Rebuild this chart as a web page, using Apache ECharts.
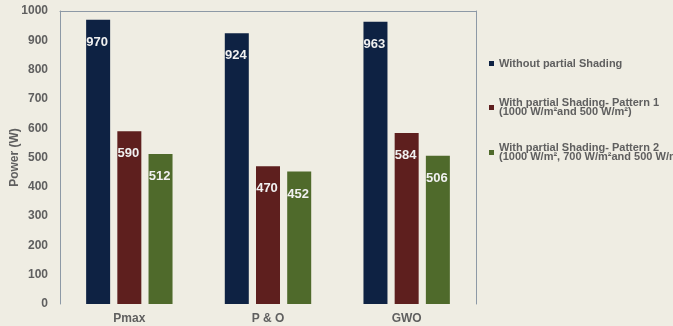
<!DOCTYPE html>
<html>
<head>
<meta charset="utf-8">
<script src="https://cdn.jsdelivr.net/npm/echarts@6/dist/echarts.min.js"></script>
<style>
  html, body { margin: 0; padding: 0; background: #efede3; }
  #chart { width: 673px; height: 326px; }
</style>
</head>
<body>
<div id="chart"></div>
<script>
const categories = ['Pmax', 'P & O', 'GWO'];
const seriesNames = [
  'Without partial Shading',
  'With partial Shading- Pattern 1\n(1000 W/m²and 500 W/m²)',
  'With partial Shading- Pattern 2\n(1000 W/m², 700 W/m²and 500 W/m²)'
];
const withoutShading = [970, 924, 963];
const pattern1 = [590, 470, 584];
const pattern2 = [512, 452, 506];
const yTicks = [0, 100, 200, 300, 400, 500, 600, 700, 800, 900, 1000];

const barColors = ['#0e2243', '#5e1f1e', '#4f6a2b'];
const frameColor = '#8d99a6';
const textGray = '#5f5f5f';
const fontFam = '"Liberation Sans", Arial, sans-serif';

const chart = echarts.init(document.getElementById('chart'));

// 柱上数值
const barLabel = {
  show: true,
  position: 'insideTop',
  distance: 16,
  offset: [-1, 0],
  color: '#f0f0f0',
  fontSize: 13,
  fontWeight: 'bold',
  fontFamily: fontFam
};

const makeLegend = (name, top) => ({
  data: [name],
  orient: 'vertical',
  left: 489,
  top: top,
  padding: 0,
  itemWidth: 5,
  itemHeight: 5,
  itemGap: 0,
  icon: 'rect',
  selectedMode: false,
  textStyle: {
    color: textGray,
    fontSize: 11,
    fontWeight: 'bold',
    fontFamily: fontFam,
    lineHeight: 9,
    padding: name.indexOf('\n') >= 0 ? [9, 0, 0, 0] : 0
  }
});

const option = {
  backgroundColor: '#efede3',
  animation: false,
  color: barColors,
  grid: { left: 60, right: 197, top: 11, bottom: 22, outerBoundsMode: 'none' },
  legend: [
    makeLegend(seriesNames[0], 58),
    makeLegend(seriesNames[1], 94),
    makeLegend(seriesNames[2], 139)
  ],
  xAxis: [
    {
      type: 'category',
      data: categories,
      axisLine: { show: false },
      axisTick: { show: false },
      axisLabel: {
        color: textGray, fontSize: 12, fontWeight: 'bold',
        fontFamily: fontFam, margin: 9
      }
    },
    {
      type: 'category',
      position: 'top',
      data: categories,
      axisLine: { show: true, onZero: false, lineStyle: { color: frameColor, width: 1 } },
      axisTick: { show: false },
      axisLabel: { show: false }
    }
  ],
  yAxis: [
    {
      type: 'value',
      min: yTicks[0],
      max: yTicks[yTicks.length - 1],
      interval: 100,
      name: 'Power (W)',
      nameLocation: 'middle',
      nameGap: 39,
      nameMoveOverlap: false,
      nameTextStyle: {
        color: textGray, fontSize: 12, fontWeight: 'bold', fontFamily: fontFam
      },
      splitLine: { show: false },
      axisLine: { show: true, onZero: false, lineStyle: { color: frameColor, width: 1 } },
      axisTick: { show: false },
      axisLabel: {
        color: textGray, fontSize: 12, fontWeight: 'bold',
        fontFamily: fontFam, margin: 12,
        formatter: (v) => String(v)
      }
    },
    {
      type: 'value',
      position: 'right',
      min: 0,
      max: 1000,
      splitLine: { show: false },
      axisLine: { show: true, onZero: false, lineStyle: { color: frameColor, width: 1 } },
      axisTick: { show: false },
      axisLabel: { show: false }
    }
  ],
  series: [
    {
      name: seriesNames[0], type: 'bar', data: withoutShading,
      barWidth: 24, barGap: '30%', label: barLabel
    },
    {
      name: seriesNames[1], type: 'bar', data: pattern1,
      barWidth: 24, barGap: '30%', label: barLabel
    },
    {
      name: seriesNames[2], type: 'bar', data: pattern2,
      barWidth: 24, barGap: '30%', label: barLabel
    }
  ]
};

chart.setOption(option);
</script>
</body>
</html>
